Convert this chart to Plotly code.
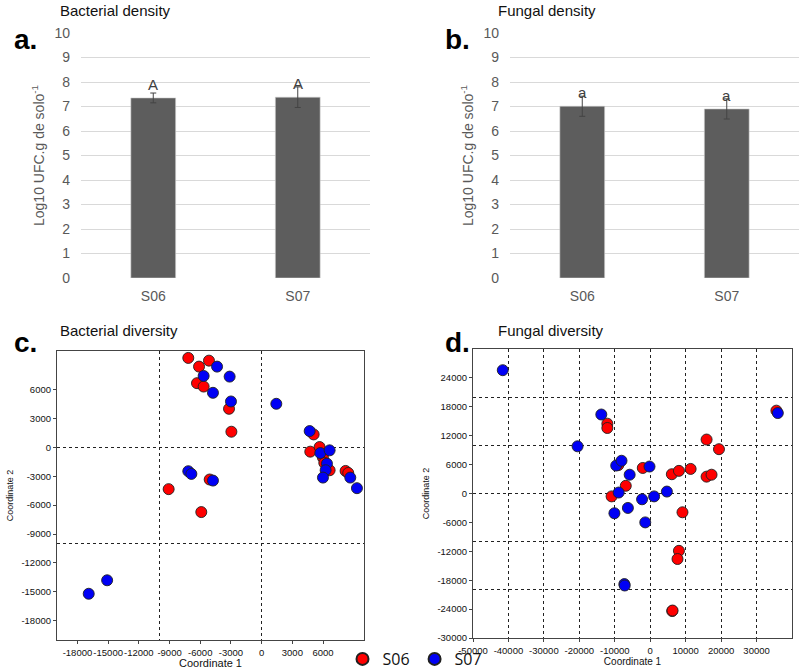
import plotly.graph_objects as go

# ---------------- data ----------------
categories = ["S06", "S07"]
bact_density = [7.35, 7.38]
bact_err = [0.20, 0.42]
bact_letters = ["A", "A"]
fung_density = [7.01, 6.90]
fung_err = [0.41, 0.41]
fung_letters = ["a", "a"]

c_s06_x = [-7170, -6120, -5150, -6320, -5670, -3190, -2960, -9090, -5900, -5080,
           5080, 4750, 5660, 5990, 6120, 6640, 8200, 8460]
c_s06_y = [9280, 8380, 9000, 6660, 6310, 4000, 1620, -4340, -6720, -3340,
           1340, -450, 30, -1070, -1620, -2380, -2450, -2660]
c_s07_x = [-4360, -5670, -3130, -4760, -3000, 1430, -7170, -6870, -4760, -16900, -15100,
           4690, 5730, 6640, 6380, 6250, 5990, 8660, 9310]
c_s07_y = [8380, 7410, 7340, 5660, 4760, 4520, -2480, -2760, -3450, -15200, -13800,
           1690, -590, -310, -1690, -2380, -3140, -3140, -4240]

d_s06_x = [-12100, -12100, -9000, -2100, -6900, -10900, 6100, 8100, 11400, 15900,
           19400, 15900, 17300, 9100, 8100, 7700, 6200, 6300, 35600]
d_s06_y = [14500, 13600, 5900, 5300, 1600, -600, 4000, 4700, 5100, 11200,
           9200, 3500, 3900, -3900, -11900, -13600, -24400, -24300, 17200]
d_s07_x = [-41600, -13800, -20500, -9600, -8100, -5800, -200, -8900, -2300, 1100,
           4700, -10100, -6300, -1400, -7300, -7200, 36000]
d_s07_y = [25600, 16400, 9800, 5800, 6800, 3900, 5600, 200, -1200, -600,
           400, -4100, -3000, -6000, -18800, -19100, 16700]

c_xticks = [-18000, -15000, -12000, -9000, -6000, -3000, 0, 3000, 6000]
c_yticks = [6000, 3000, 0, -3000, -6000, -9000, -12000, -15000, -18000]
c_grid = [-10000, 0]
d_xticks = [-50000, -40000, -30000, -20000, -10000, 0, 10000, 20000, 30000]
d_yticks = [-30000, -24000, -18000, -12000, -6000, 0, 6000, 12000, 18000, 24000]
d_ygrid = [-20000, -10000, 0, 10000, 20000]
d_xgrid = [-40000, -30000, -20000, -10000, 0, 10000, 20000, 30000]

RED = "#ff0000"
BLUE = "#0000f5"
BAR = "#5d5d5d"
GRAY_TXT = "#595959"
ARIAL = "Liberation Sans, Arial, sans-serif"

W, H = 800, 671


def px(x):
    return x / W


def py(y):
    return 1 - y / H


fig = go.Figure()

# ---------------- bar panels ----------------
for vals, errs, letters, xa, ya in [
    (bact_density, bact_err, bact_letters, "x", "y"),
    (fung_density, fung_err, fung_letters, "x2", "y2"),
]:
    fig.add_trace(go.Bar(
        x=categories, y=vals, xaxis=xa, yaxis=ya,
        marker=dict(color=BAR, line=dict(color="#cfcfcf", width=0.6)),
        error_y=dict(type="data", array=errs, color="#444444", thickness=1, width=3),
        width=0.31, showlegend=False, hoverinfo="skip",
    ))
    for c, v, t in zip(categories, vals, letters):
        fig.add_annotation(x=c, y=v + 0.56, xref=xa, yref=ya, text=t, showarrow=False,
                           yanchor="middle",
                           font=dict(family=ARIAL, size=15, color="#404040"))

# ---------------- scatter panels ----------------
mk = lambda col: dict(color=col, size=11, line=dict(color="#202020", width=0.9))
fig.add_trace(go.Scatter(x=c_s06_x, y=c_s06_y, mode="markers", xaxis="x3", yaxis="y3",
                         marker=mk(RED), name="S06", showlegend=True))
fig.add_trace(go.Scatter(x=c_s07_x, y=c_s07_y, mode="markers", xaxis="x3", yaxis="y3",
                         marker=mk(BLUE), name="S07", showlegend=True))
fig.add_trace(go.Scatter(x=d_s06_x, y=d_s06_y, mode="markers", xaxis="x4", yaxis="y4",
                         marker=mk(RED), name="S06", showlegend=False))
fig.add_trace(go.Scatter(x=d_s07_x, y=d_s07_y, mode="markers", xaxis="x4", yaxis="y4",
                         marker=mk(BLUE), name="S07", showlegend=False))

bar_y = dict(range=[0, 10], dtick=1, tick0=0, showgrid=True, gridcolor="#d9d9d9",
             gridwidth=1, zeroline=False, showline=False,
             tickfont=dict(family=ARIAL, size=14, color=GRAY_TXT),
             ticklabelstandoff=10,
             title=dict(text="Log10 UFC.g de solo<sup>-1</sup>",
                        font=dict(family=ARIAL, size=14, color=GRAY_TXT), standoff=6))
bar_x = dict(type="category", showgrid=False, showline=False, zeroline=False,
             tickfont=dict(family=ARIAL, size=14, color=GRAY_TXT), ticklabelstandoff=8)

sc_font = dict(family=ARIAL, size=9.5, color="#111111")
frame = dict(showline=True, linecolor="#444444", linewidth=1.2, mirror=True,
             zeroline=False, ticks="outside", ticklen=3, tickcolor="#444444",
             tickfont=sc_font, tickangle=0)
minor_grid = lambda vals: dict(tickmode="array", tickvals=vals, showgrid=True,
                               gridcolor="#222222", griddash="dot", gridwidth=1, ticklen=0)
ticks = lambda vals: dict(tickmode="array", tickvals=vals, ticktext=[str(v) for v in vals])

fig.update_layout(
    width=W, height=H, margin=dict(l=0, r=0, t=0, b=0, autoexpand=False),
    paper_bgcolor="white", plot_bgcolor="white",
    xaxis=dict(domain=[px(81), px(370)], anchor="y", **bar_x),
    yaxis=dict(domain=[py(278), py(33)], anchor="x", **bar_y),
    xaxis2=dict(domain=[px(510), px(799)], anchor="y2", **bar_x),
    yaxis2=dict(domain=[py(278), py(33)], anchor="x2", **bar_y),
    xaxis3=dict(domain=[px(57), px(364)], anchor="y3", range=[-20000, 10000],
                showgrid=False, minor=minor_grid(c_grid), **ticks(c_xticks),
                title=dict(text="Coordinate 1", font=dict(family=ARIAL, size=11, color="#111"),
                           standoff=1), **frame),
    yaxis3=dict(domain=[py(640), py(351)], anchor="x3", range=[-20000, 10000],
                showgrid=False, minor=minor_grid(c_grid), **ticks(c_yticks),
                title=dict(text="Coordinate 2", font=dict(family=ARIAL, size=9, color="#111"),
                           standoff=6), **frame),
    xaxis4=dict(domain=[px(473), px(792)], anchor="y4", range=[-50000, 40000],
                showgrid=False, minor=minor_grid(d_xgrid), **ticks(d_xticks),
                title=dict(text="Coordinate 1", font=dict(family=ARIAL, size=10, color="#111"),
                           standoff=0), **frame),
    yaxis4=dict(domain=[py(638), py(349)], anchor="x4", range=[-30000, 30000],
                showgrid=False, minor=minor_grid(d_ygrid), **ticks(d_yticks),
                title=dict(text="Coordinate 2", font=dict(family=ARIAL, size=9, color="#111"),
                           standoff=6), **frame),
    legend=dict(orientation="h", x=px(415), xanchor="center", y=py(659), yanchor="middle",
                font=dict(family="Open Sans, sans-serif", size=16, color="#111"),
                itemsizing="constant", tracegroupgap=0, itemwidth=30,
                bgcolor="rgba(0,0,0,0)"),
)

# panel titles and letters
for txt, x, y in [("Bacterial density", 58, 10), ("Fungal density", 496, 10),
                  ("Bacterial diversity", 58, 330), ("Fungal diversity", 496, 330)]:
    fig.add_annotation(x=px(x), y=py(y), xref="paper", yref="paper", text=txt,
                       showarrow=False, xanchor="left", yanchor="middle",
                       font=dict(family=ARIAL, size=15, color="#111"))
for txt, x, y in [("a.", 12, 40), ("b.", 443, 40), ("c.", 12, 343), ("d.", 443, 342)]:
    fig.add_annotation(x=px(x), y=py(y), xref="paper", yref="paper", text="<b>%s</b>" % txt,
                       showarrow=False, xanchor="left", yanchor="middle",
                       font=dict(family=ARIAL, size=28, color="#000"))

fig.write_html("out.html", config={"displayModeBar": False},
               post_script="document.body.style.margin='0';document.body.style.overflow='hidden';")
